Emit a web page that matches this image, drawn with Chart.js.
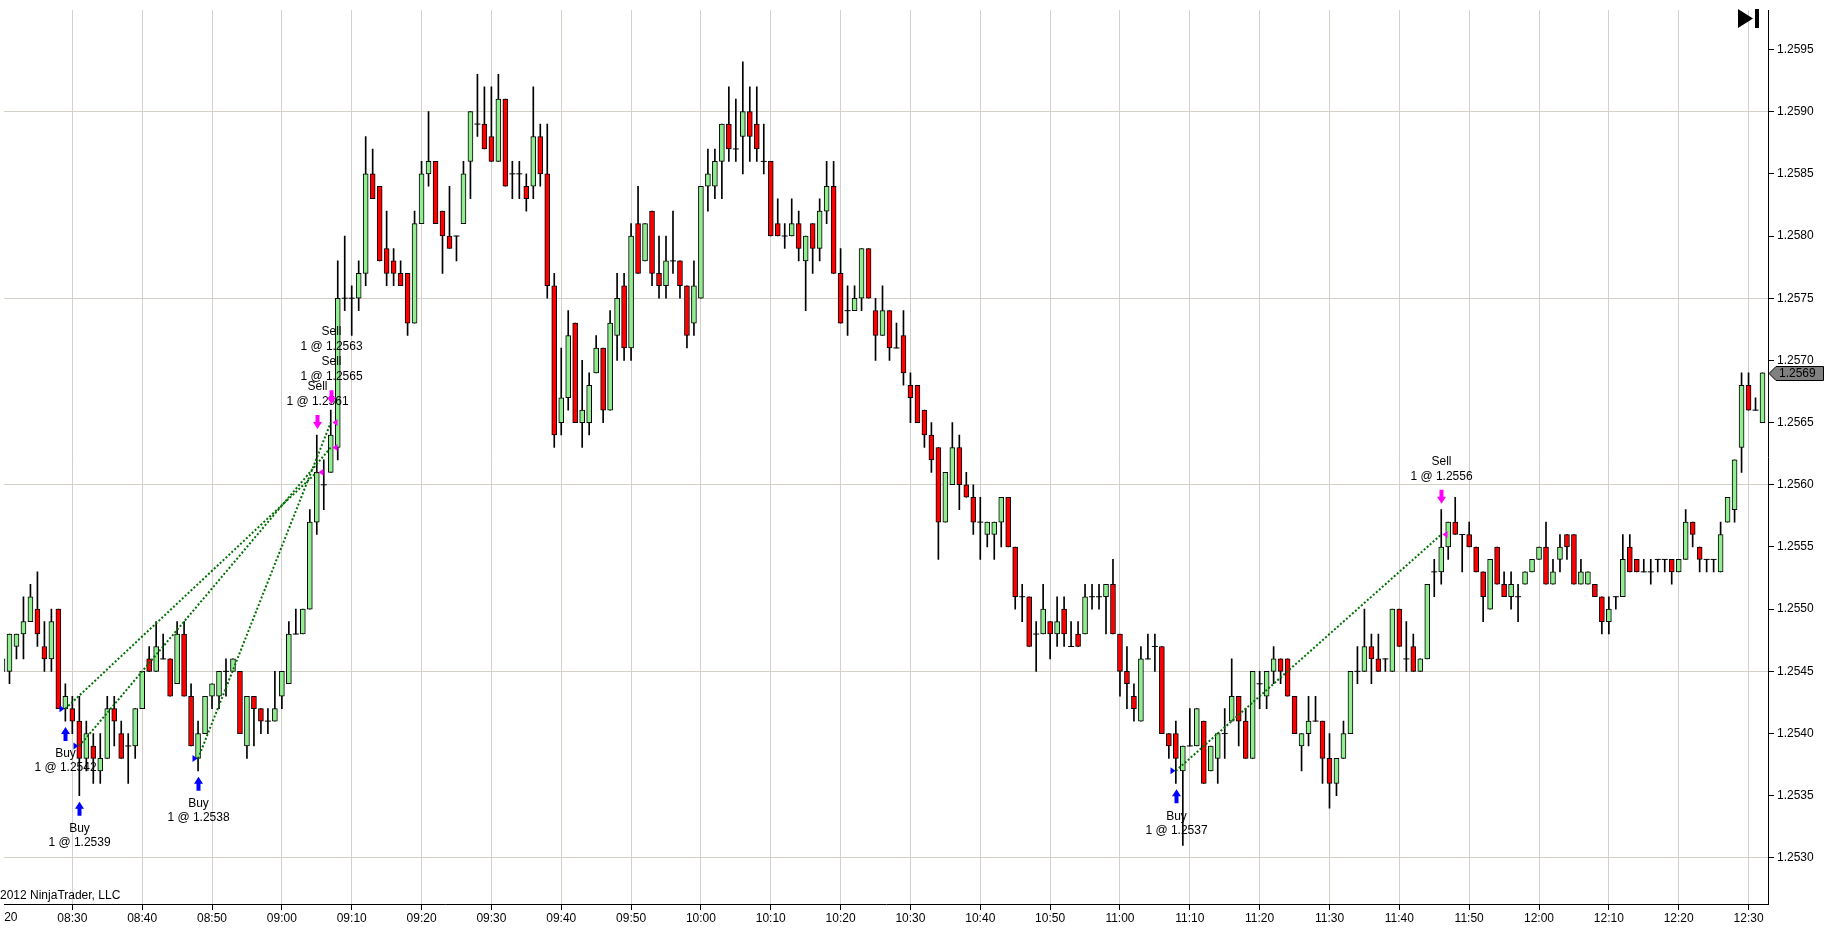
<!DOCTYPE html>
<html>
<head>
<meta charset="utf-8">
<title>NinjaTrader 1 minute chart</title>
<script src="https://cdn.jsdelivr.net/npm/chart.js@4.4.1/dist/chart.umd.min.js"></script>
<style>
  html, body { margin: 0; padding: 0; background: #fff; overflow: hidden; }
  #wrap { width: 1825px; height: 928px; position: relative; }
</style>
</head>
<body>
<div id="wrap"><canvas id="priceChart"></canvas></div>
<script>
// 1 minute bars, first bar 08:20
const firstBar = '08:20';

const open = [
  1.2545, 1.2545, 1.2547, 1.2548, 1.2549, 1.2550, 1.2547, 1.2546, 1.2550, 1.2542,
  1.2542, 1.2541, 1.2538, 1.2539, 1.2537, 1.2538, 1.2542, 1.2540, 1.2539, 1.2539,
  1.2542, 1.2546, 1.2545, 1.2546, 1.2546, 1.2544, 1.2548, 1.2543, 1.2538, 1.2540,
  1.2543, 1.2543, 1.2545, 1.2545, 1.2545, 1.2539, 1.2543, 1.2542, 1.2541, 1.2541,
  1.2543, 1.2544, 1.2548, 1.2548, 1.2550, 1.2557, 1.2560, 1.2561, 1.2563, 1.2575,
  1.2575, 1.2575, 1.2577, 1.2585, 1.2584, 1.2579, 1.2578, 1.2577, 1.2577, 1.2573,
  1.2581, 1.2585, 1.2586, 1.2582, 1.2580, 1.2580, 1.2581, 1.2586, 1.2589, 1.2589,
  1.2588, 1.2586, 1.2591, 1.2585, 1.2585, 1.2584, 1.2584, 1.2588, 1.2585, 1.2576,
  1.2565, 1.2567, 1.2573, 1.2565, 1.2565, 1.2569, 1.2571, 1.2566, 1.2572, 1.2576,
  1.2571, 1.2581, 1.2578, 1.2582, 1.2577, 1.2576, 1.2578, 1.2578, 1.2576, 1.2573,
  1.2575, 1.2584, 1.2584, 1.2586, 1.2589, 1.2587, 1.2588, 1.2590, 1.2589, 1.2586,
  1.2586, 1.2581, 1.2580, 1.2580, 1.2581, 1.2578, 1.2581, 1.2579, 1.2582, 1.2584,
  1.2577, 1.2574, 1.2574, 1.2575, 1.2579, 1.2574, 1.2572, 1.2574, 1.2571, 1.2572,
  1.2568, 1.2568, 1.2566, 1.2564, 1.2563, 1.2557, 1.2560, 1.2563, 1.2560, 1.2559,
  1.2557, 1.2556, 1.2556, 1.2557, 1.2559, 1.2555, 1.2551, 1.2551, 1.2548, 1.2548,
  1.2549, 1.2548, 1.2550, 1.2547, 1.2548, 1.2548, 1.2551, 1.2551, 1.2551, 1.2552,
  1.2548, 1.2545, 1.2543, 1.2541, 1.2546, 1.2547, 1.2547, 1.2540, 1.2540, 1.2537,
  1.2539, 1.2539, 1.2541, 1.2537, 1.2538, 1.2540, 1.2541, 1.2543, 1.2541, 1.2538,
  1.2544, 1.2543, 1.2545, 1.2546, 1.2546, 1.2543, 1.2539, 1.2540, 1.2541, 1.2541,
  1.2538, 1.2536, 1.2538, 1.2540, 1.2545, 1.2545, 1.2547, 1.2546, 1.2546, 1.2545,
  1.2550, 1.2546, 1.2547, 1.2545, 1.2546, 1.2553, 1.2553, 1.2555, 1.2557, 1.2556,
  1.2556, 1.2555, 1.2553, 1.2550, 1.2555, 1.2552, 1.2551, 1.2551, 1.2552, 1.2553,
  1.2554, 1.2555, 1.2552, 1.2554, 1.2556, 1.2556, 1.2552, 1.2552, 1.2552, 1.2551,
  1.2549, 1.2551, 1.2551, 1.2555, 1.2554, 1.2553, 1.2553, 1.2554, 1.2554, 1.2554,
  1.2553, 1.2554, 1.2557, 1.2555, 1.2554, 1.2554, 1.2553, 1.2557, 1.2558, 1.2563,
  1.2568, 1.2566, 1.2565
];
const high = [
  1.2547, 1.2548, 1.2548, 1.2551, 1.2552, 1.2553, 1.2549, 1.2550, 1.2550, 1.2544,
  1.2543, 1.2543, 1.2541, 1.2540, 1.2540, 1.2543, 1.2543, 1.2541, 1.2540, 1.2542,
  1.2545, 1.2547, 1.2549, 1.2548, 1.2546, 1.2549, 1.2549, 1.2544, 1.2541, 1.2543,
  1.2544, 1.2545, 1.2546, 1.2546, 1.2545, 1.2543, 1.2543, 1.2542, 1.2542, 1.2545,
  1.2545, 1.2549, 1.2550, 1.2550, 1.2558, 1.2564, 1.2562, 1.2566, 1.2578, 1.2580,
  1.2576, 1.2578, 1.2588, 1.2587, 1.2584, 1.2582, 1.2579, 1.2578, 1.2577, 1.2582,
  1.2586, 1.2590, 1.2586, 1.2582, 1.2584, 1.2580, 1.2586, 1.2590, 1.2593, 1.2592,
  1.2592, 1.2593, 1.2591, 1.2586, 1.2586, 1.2585, 1.2592, 1.2589, 1.2589, 1.2577,
  1.2571, 1.2574, 1.2573, 1.2570, 1.2569, 1.2572, 1.2571, 1.2574, 1.2577, 1.2577,
  1.2581, 1.2584, 1.2581, 1.2582, 1.2580, 1.2580, 1.2582, 1.2578, 1.2576, 1.2578,
  1.2584, 1.2587, 1.2587, 1.2589, 1.2592, 1.2591, 1.2594, 1.2592, 1.2592, 1.2589,
  1.2586, 1.2583, 1.2581, 1.2583, 1.2582, 1.2580, 1.2581, 1.2583, 1.2586, 1.2586,
  1.2579, 1.2576, 1.2576, 1.2579, 1.2579, 1.2575, 1.2576, 1.2574, 1.2573, 1.2574,
  1.2569, 1.2568, 1.2566, 1.2565, 1.2563, 1.2561, 1.2565, 1.2564, 1.2561, 1.2560,
  1.2559, 1.2557, 1.2557, 1.2559, 1.2559, 1.2555, 1.2552, 1.2551, 1.2549, 1.2552,
  1.2549, 1.2551, 1.2551, 1.2549, 1.2549, 1.2552, 1.2552, 1.2552, 1.2552, 1.2554,
  1.2548, 1.2547, 1.2544, 1.2547, 1.2548, 1.2548, 1.2547, 1.2540, 1.2541, 1.2539,
  1.2542, 1.2542, 1.2541, 1.2539, 1.2540, 1.2542, 1.2546, 1.2543, 1.2542, 1.2545,
  1.2545, 1.2545, 1.2547, 1.2546, 1.2546, 1.2543, 1.2540, 1.2543, 1.2543, 1.2541,
  1.2540, 1.2538, 1.2541, 1.2545, 1.2547, 1.2550, 1.2548, 1.2548, 1.2546, 1.2550,
  1.2550, 1.2549, 1.2548, 1.2546, 1.2552, 1.2554, 1.2558, 1.2557, 1.2559, 1.2556,
  1.2557, 1.2555, 1.2553, 1.2554, 1.2555, 1.2553, 1.2553, 1.2552, 1.2553, 1.2554,
  1.2555, 1.2557, 1.2554, 1.2556, 1.2556, 1.2556, 1.2554, 1.2553, 1.2552, 1.2551,
  1.2551, 1.2551, 1.2556, 1.2556, 1.2554, 1.2554, 1.2554, 1.2554, 1.2554, 1.2554,
  1.2554, 1.2558, 1.2557, 1.2555, 1.2554, 1.2554, 1.2557, 1.2559, 1.2562, 1.2569,
  1.2569, 1.2567, 1.2569
];
const low = [
  1.2544, 1.2544, 1.2546, 1.2546, 1.2549, 1.2547, 1.2545, 1.2545, 1.2542, 1.2541,
  1.2540, 1.2535, 1.2537, 1.2536, 1.2536, 1.2538, 1.2539, 1.2538, 1.2536, 1.2538,
  1.2542, 1.2545, 1.2545, 1.2546, 1.2543, 1.2544, 1.2543, 1.2539, 1.2537, 1.2540,
  1.2542, 1.2542, 1.2543, 1.2545, 1.2540, 1.2538, 1.2539, 1.2540, 1.2540, 1.2541,
  1.2542, 1.2544, 1.2548, 1.2548, 1.2550, 1.2556, 1.2558, 1.2561, 1.2562, 1.2574,
  1.2572, 1.2574, 1.2576, 1.2583, 1.2578, 1.2576, 1.2576, 1.2576, 1.2572, 1.2573,
  1.2581, 1.2584, 1.2581, 1.2577, 1.2579, 1.2578, 1.2581, 1.2583, 1.2588, 1.2587,
  1.2586, 1.2586, 1.2584, 1.2583, 1.2583, 1.2582, 1.2583, 1.2584, 1.2575, 1.2563,
  1.2564, 1.2566, 1.2565, 1.2563, 1.2564, 1.2569, 1.2565, 1.2566, 1.2570, 1.2570,
  1.2570, 1.2577, 1.2578, 1.2576, 1.2575, 1.2575, 1.2577, 1.2575, 1.2571, 1.2572,
  1.2575, 1.2582, 1.2583, 1.2583, 1.2586, 1.2586, 1.2585, 1.2586, 1.2586, 1.2585,
  1.2580, 1.2580, 1.2579, 1.2580, 1.2578, 1.2574, 1.2577, 1.2578, 1.2581, 1.2577,
  1.2573, 1.2572, 1.2574, 1.2574, 1.2575, 1.2570, 1.2572, 1.2570, 1.2571, 1.2568,
  1.2565, 1.2565, 1.2563, 1.2561, 1.2554, 1.2557, 1.2560, 1.2558, 1.2559, 1.2556,
  1.2554, 1.2555, 1.2554, 1.2555, 1.2555, 1.2550, 1.2549, 1.2547, 1.2545, 1.2548,
  1.2546, 1.2547, 1.2547, 1.2547, 1.2547, 1.2548, 1.2550, 1.2550, 1.2548, 1.2548,
  1.2543, 1.2542, 1.2541, 1.2541, 1.2546, 1.2545, 1.2540, 1.2538, 1.2536, 1.2531,
  1.2539, 1.2539, 1.2536, 1.2537, 1.2536, 1.2538, 1.2541, 1.2539, 1.2538, 1.2538,
  1.2542, 1.2542, 1.2544, 1.2544, 1.2543, 1.2540, 1.2537, 1.2539, 1.2541, 1.2536,
  1.2534, 1.2535, 1.2538, 1.2540, 1.2544, 1.2545, 1.2544, 1.2545, 1.2545, 1.2545,
  1.2547, 1.2545, 1.2545, 1.2545, 1.2546, 1.2551, 1.2552, 1.2554, 1.2556, 1.2553,
  1.2555, 1.2553, 1.2549, 1.2550, 1.2552, 1.2551, 1.2550, 1.2549, 1.2552, 1.2553,
  1.2554, 1.2552, 1.2552, 1.2553, 1.2554, 1.2552, 1.2552, 1.2552, 1.2551, 1.2548,
  1.2548, 1.2550, 1.2551, 1.2553, 1.2553, 1.2553, 1.2552, 1.2553, 1.2553, 1.2552,
  1.2553, 1.2554, 1.2555, 1.2553, 1.2553, 1.2553, 1.2553, 1.2557, 1.2557, 1.2561,
  1.2566, 1.2566, 1.2565
];
const close = [
  1.2546, 1.2548, 1.2548, 1.2549, 1.2551, 1.2548, 1.2546, 1.2549, 1.2542, 1.2543,
  1.2541, 1.2538, 1.2540, 1.2538, 1.2538, 1.2542, 1.2541, 1.2538, 1.2539, 1.2542,
  1.2545, 1.2545, 1.2547, 1.2546, 1.2543, 1.2548, 1.2543, 1.2539, 1.2540, 1.2543,
  1.2544, 1.2545, 1.2545, 1.2546, 1.2540, 1.2543, 1.2542, 1.2541, 1.2541, 1.2542,
  1.2545, 1.2548, 1.2548, 1.2550, 1.2557, 1.2561, 1.2560, 1.2564, 1.2575, 1.2575,
  1.2575, 1.2577, 1.2585, 1.2583, 1.2578, 1.2577, 1.2577, 1.2576, 1.2573, 1.2581,
  1.2585, 1.2586, 1.2581, 1.2580, 1.2579, 1.2580, 1.2585, 1.2590, 1.2589, 1.2587,
  1.2586, 1.2591, 1.2584, 1.2585, 1.2585, 1.2583, 1.2588, 1.2585, 1.2576, 1.2564,
  1.2567, 1.2572, 1.2565, 1.2566, 1.2568, 1.2571, 1.2566, 1.2573, 1.2575, 1.2571,
  1.2580, 1.2577, 1.2581, 1.2577, 1.2576, 1.2578, 1.2578, 1.2576, 1.2572, 1.2576,
  1.2584, 1.2585, 1.2586, 1.2589, 1.2587, 1.2587, 1.2590, 1.2588, 1.2587, 1.2586,
  1.2580, 1.2580, 1.2580, 1.2581, 1.2579, 1.2580, 1.2579, 1.2582, 1.2584, 1.2577,
  1.2573, 1.2574, 1.2575, 1.2579, 1.2575, 1.2572, 1.2574, 1.2571, 1.2571, 1.2569,
  1.2567, 1.2565, 1.2564, 1.2562, 1.2557, 1.2561, 1.2563, 1.2560, 1.2559, 1.2557,
  1.2557, 1.2557, 1.2557, 1.2559, 1.2555, 1.2551, 1.2551, 1.2547, 1.2548, 1.2550,
  1.2548, 1.2549, 1.2548, 1.2547, 1.2547, 1.2551, 1.2551, 1.2551, 1.2552, 1.2548,
  1.2545, 1.2544, 1.2542, 1.2546, 1.2546, 1.2547, 1.2540, 1.2539, 1.2538, 1.2539,
  1.2539, 1.2542, 1.2536, 1.2539, 1.2540, 1.2540, 1.2543, 1.2541, 1.2538, 1.2545,
  1.2544, 1.2545, 1.2546, 1.2545, 1.2543, 1.2540, 1.2540, 1.2541, 1.2541, 1.2538,
  1.2536, 1.2538, 1.2540, 1.2545, 1.2545, 1.2547, 1.2546, 1.2545, 1.2546, 1.2550,
  1.2547, 1.2546, 1.2545, 1.2546, 1.2552, 1.2553, 1.2555, 1.2557, 1.2556, 1.2556,
  1.2555, 1.2553, 1.2551, 1.2554, 1.2552, 1.2551, 1.2552, 1.2551, 1.2553, 1.2554,
  1.2555, 1.2552, 1.2553, 1.2555, 1.2555, 1.2552, 1.2553, 1.2553, 1.2551, 1.2549,
  1.2550, 1.2551, 1.2554, 1.2553, 1.2553, 1.2553, 1.2553, 1.2554, 1.2554, 1.2553,
  1.2554, 1.2557, 1.2556, 1.2554, 1.2554, 1.2554, 1.2556, 1.2559, 1.2562, 1.2568,
  1.2566, 1.2566, 1.2569
];

// executions
const entryTimes  = ['08:29', '08:31', '08:48', '11:08'];
const entryPrices = [1.2542, 1.2539, 1.2538, 1.2537];
const exitTimes   = ['09:05', '09:07', '09:07', '11:46'];
const exitPrices  = [1.2561, 1.2563, 1.2565, 1.2556];

const timeTicks = ['08:30', '08:40', '08:50', '09:00', '09:10', '09:20', '09:30', '09:40', '09:50',
                   '10:00', '10:10', '10:20', '10:30', '10:40', '10:50', '11:00', '11:10', '11:20',
                   '11:30', '11:40', '11:50', '12:00', '12:10', '12:20', '12:30'];
const priceTicks = [1.2530, 1.2535, 1.2540, 1.2545, 1.2550, 1.2555, 1.2560, 1.2565, 1.2570, 1.2575, 1.2580, 1.2585, 1.2590, 1.2595];
const gridPrices = [1.2530, 1.2545, 1.2560, 1.2575, 1.2590];

// helpers
const toMin = s => { const p = s.split(':'); return +p[0] * 60 + +p[1]; };
const toTime = m => String(Math.floor(m / 60)).padStart(2, '0') + ':' + String(Math.round(m % 60)).padStart(2, '0');
const t0 = toMin(firstBar);
const barIndex = s => toMin(s) - t0;

const FONT = "'Liberation Sans', Arial, sans-serif";
const GRID = '#D4D0C8';
const UP = '#90EE90';
const DOWN = '#FF0000';

// 7px per bar, 08:30 at x=68.5 inside a 1768px wide plot
const xMin = toMin('08:30') - 68.5 / 7;
const xMax = xMin + 1768 / 7;
// 12.58px per pip, 1.2560 at y=480 inside a 904px tall plot
const yMax = 1.2560 + 480 / 125800;
const yMin = yMax - 904 / 125800;

const wicks = open.map((o, i) => ({ x: t0 + i, y: [low[i], high[i]] }));
const bodies = [], bodyColors = [], dojis = [];
open.forEach((o, i) => {
    if (o === close[i]) {
        dojis.push({ x: t0 + i, y: o });
    } else {
        bodies.push({ x: t0 + i, y: [o, close[i]] });
        bodyColors.push(close[i] > o ? UP : DOWN);
    }
});

const tradeLines = entryTimes.map((t, i) => ({
    type: 'line',
    data: [{ x: toMin(t), y: entryPrices[i] }, { x: toMin(exitTimes[i]), y: exitPrices[i] }],
    borderColor: '#007000',
    borderWidth: 2,
    borderDash: [2, 2],
    pointRadius: 0,
    fill: false,
    order: 0
}));

function upArrow(ctx, cx, top) {
    ctx.beginPath();
    ctx.moveTo(cx, top);
    ctx.lineTo(cx + 4.5, top + 7);
    ctx.lineTo(cx + 2, top + 7);
    ctx.lineTo(cx + 2, top + 14);
    ctx.lineTo(cx - 2, top + 14);
    ctx.lineTo(cx - 2, top + 7);
    ctx.lineTo(cx - 4.5, top + 7);
    ctx.closePath();
    ctx.fill();
}
function downArrow(ctx, cx, bot) {
    ctx.beginPath();
    ctx.moveTo(cx, bot);
    ctx.lineTo(cx + 4.5, bot - 7);
    ctx.lineTo(cx + 2, bot - 7);
    ctx.lineTo(cx + 2, bot - 14);
    ctx.lineTo(cx - 2, bot - 14);
    ctx.lineTo(cx - 2, bot - 7);
    ctx.lineTo(cx - 4.5, bot - 7);
    ctx.closePath();
    ctx.fill();
}

// execution markers, labels, last price tag and decorations
const overlay = {
    id: 'overlay',
    afterDatasetsDraw(chart) {
        const { ctx, scales: { x, y } } = chart;
        ctx.save();
        ctx.font = '12px ' + FONT;
        ctx.textAlign = 'center';
        ctx.textBaseline = 'middle';

        // buys
        entryTimes.forEach((t, i) => {
            const bi = barIndex(t);
            const cx = Math.round(x.getPixelForValue(toMin(t))) + 0.5;
            const py = y.getPixelForValue(entryPrices[i]);
            const ly = y.getPixelForValue(low[bi]);
            ctx.fillStyle = '#0000FF';
            ctx.beginPath();
            ctx.moveTo(cx - 1, py);
            ctx.lineTo(cx - 6, py - 3.5);
            ctx.lineTo(cx - 6, py + 3.5);
            ctx.closePath();
            ctx.fill();
            upArrow(ctx, cx, ly + 6);
            ctx.fillStyle = '#000';
            ctx.fillText('Buy', cx, ly + 33);
            ctx.fillText('1 @ ' + entryPrices[i].toFixed(4), cx, ly + 47);
        });

        // sells, stacked when on the same bar
        const stack = {};
        exitTimes.forEach((t, i) => { (stack[t] = stack[t] || []).push(i); });
        Object.keys(stack).forEach(t => {
            const bi = barIndex(t);
            const cx = Math.round(x.getPixelForValue(toMin(t))) + 0.5;
            const hy = y.getPixelForValue(high[bi]);
            const ids = stack[t].slice().sort((a, b) => exitPrices[b] - exitPrices[a]);
            ids.forEach((i, k) => {
                const py = y.getPixelForValue(exitPrices[i]);
                ctx.fillStyle = '#FF00FF';
                ctx.beginPath();
                ctx.moveTo(cx + 1, py);
                ctx.lineTo(cx + 6, py - 3.5);
                ctx.lineTo(cx + 6, py + 3.5);
                ctx.closePath();
                ctx.fill();
                ctx.fillStyle = '#000';
                ctx.fillText('1 @ ' + exitPrices[i].toFixed(4), cx, hy - 33 - 30 * k);
                ctx.fillText('Sell', cx, hy - 48 - 30 * k);
            });
            ctx.fillStyle = '#FF00FF';
            downArrow(ctx, cx, hy - 6);
        });
        ctx.restore();
    },
    afterDraw(chart) {
        const { ctx, scales: { x, y }, chartArea } = chart;
        ctx.save();
        ctx.font = '12px ' + FONT;
        ctx.textBaseline = 'middle';

        // clipped 08:20 label at the left edge
        ctx.fillStyle = '#000';
        ctx.textAlign = 'right';
        ctx.fillText('20', x.getPixelForValue(toMin('08:20')) + 15, chartArea.bottom + 14);

        // copyright
        ctx.textAlign = 'left';
        ctx.fillText('2012 NinjaTrader, LLC', 0, chartArea.bottom - 8);

        // last price tag
        const last = close[close.length - 1];
        const ty = Math.round(y.getPixelForValue(last)) + 0.5;
        const ax = chartArea.right + 1;
        ctx.beginPath();
        ctx.moveTo(ax, ty);
        ctx.lineTo(ax + 7, ty - 7);
        ctx.lineTo(1823.5, ty - 7);
        ctx.lineTo(1823.5, ty + 7);
        ctx.lineTo(ax + 7, ty + 7);
        ctx.closePath();
        ctx.fillStyle = '#808080';
        ctx.fill();
        ctx.strokeStyle = '#000';
        ctx.lineWidth = 1;
        ctx.stroke();
        ctx.fillStyle = '#000';
        ctx.fillText(last.toFixed(4), ax + 10, ty + 0.5);

        // "scroll to end" button
        ctx.beginPath();
        ctx.moveTo(1738, 9);
        ctx.lineTo(1753, 18.5);
        ctx.lineTo(1738, 28);
        ctx.closePath();
        ctx.fill();
        ctx.fillRect(1755, 9, 4, 19);
        ctx.restore();
    }
};

const ctxEl = document.getElementById('priceChart');
new Chart(ctxEl, {
    type: 'bar',
    data: {
        datasets: [
            ...tradeLines,
            {
                type: 'scatter',
                data: dojis,
                pointStyle: 'line',
                pointRadius: 3,
                pointHoverRadius: 3,
                borderColor: '#000',
                borderWidth: 1,
                order: 1
            },
            {
                data: bodies,
                backgroundColor: bodyColors,
                borderColor: '#000',
                borderWidth: 1,
                borderSkipped: false,
                barThickness: 5,
                grouped: false,
                order: 2
            },
            {
                data: wicks,
                backgroundColor: '#000',
                borderWidth: 0,
                barThickness: 1,
                grouped: false,
                order: 3
            }
        ]
    },
    options: {
        responsive: true,
        maintainAspectRatio: false,
        animation: false,
        devicePixelRatio: 1,
        layout: { padding: 0 },
        events: [],
        scales: {
            x: {
                type: 'linear',
                min: xMin,
                max: xMax,
                offset: false,
                grid: { offset: false, color: GRID, tickColor: '#000', tickLength: 6, drawTicks: true },
                border: { display: true, color: '#000' },
                ticks: {
                    autoSkip: false,
                    maxRotation: 0,
                    padding: 1,
                    color: '#000',
                    font: { family: FONT, size: 12 },
                    callback: v => toTime(v)
                },
                afterBuildTicks: s => { s.ticks = timeTicks.map(t => ({ value: toMin(t) })); },
                afterFit: s => { s.height = 24; }
            },
            y: {
                position: 'right',
                min: yMin,
                max: yMax,
                grid: {
                    color: c => gridPrices.some(p => Math.abs(p - c.tick.value) < 1e-7) ? GRID : 'rgba(0,0,0,0)',
                    tickColor: '#000',
                    tickLength: 6
                },
                border: { display: true, color: '#000' },
                ticks: {
                    padding: 3,
                    color: '#000',
                    font: { family: FONT, size: 12 },
                    callback: v => v.toFixed(4)
                },
                afterBuildTicks: s => { s.ticks = priceTicks.map(v => ({ value: v })); },
                afterFit: s => { s.width = 57; }
            }
        },
        plugins: {
            legend: { display: false },
            tooltip: { enabled: false }
        }
    },
    plugins: [overlay]
});
</script>
</body>
</html>
